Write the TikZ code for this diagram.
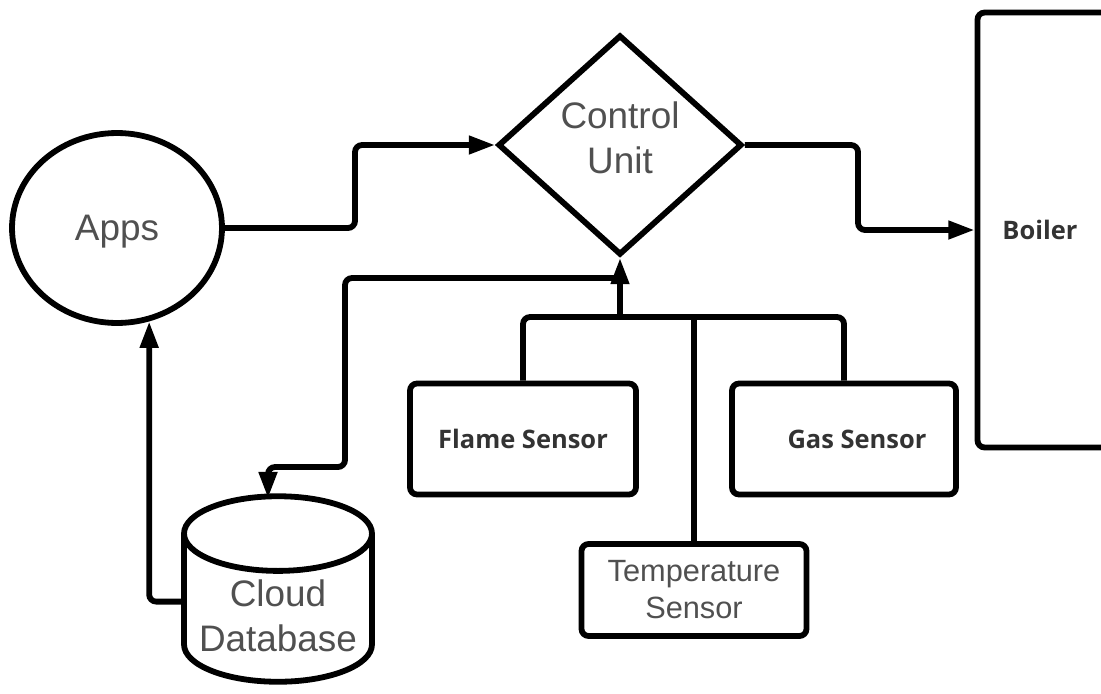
\documentclass[tikz,border=0pt]{standalone}
\usepackage{fontspec}
\setmainfont{Liberation Sans}
\newfontfamily\boldlabel{Open Sans}
\usetikzlibrary{shapes.geometric}
\usetikzlibrary{arrows.meta}
\definecolor{txtgray}{HTML}{505050}
\definecolor{txtdark}{HTML}{333333}

\begin{document}
\begin{tikzpicture}[x=0.02cm,y=-0.02cm,line width=3.3pt,
    box/.style={draw,rounded corners=4pt,inner sep=0pt,align=center},
    wire/.style={rounded corners=4pt},
    flow/.style={wire,arrows=-{Triangle[length=15pt,width=10pt]}},
    big/.style={font=\fontsize{21}{25.5}\selectfont,text=txtgray},
    tag/.style={font=\boldlabel\bfseries\fontsize{14.5}{17}\selectfont,text=txtdark}]

            %\draw [help lines] (0,0) grid (1101,693);
            \useasboundingbox (0,0) rectangle (1101,693);

            \path   (117,228) node (apps) [ellipse,draw,minimum width=4.2cm,minimum height=3.8cm,text depth=-0.1cm,big] {Apps}
                    (620,145) node (cu) [diamond,draw,inner sep=0pt,minimum width=4.88cm,minimum height=4.4cm,text depth=0.28cm,big,align=center] {Control\\Unit}
                    (1050,230) node (boiler) [box,minimum width=2.9cm,minimum height=8.7cm,tag] {Boiler\hspace*{0.4cm}}
                    (523,439) node (flame) [box,minimum width=4.52cm,minimum height=2.22cm,tag] {Flame Sensor}
                    (844,439) node (gas) [box,minimum width=4.48cm,minimum height=2.22cm,tag] {\hspace*{0.52cm}Gas Sensor}
                    (694,590) node (temp) [box,minimum width=4.5cm,minimum height=1.84cm,big,font=\fontsize{17.5}{21}\selectfont] {Temperature\\Sensor}
                    (278,589) node (cloud) [cylinder,shape border rotate=90,anchor=shape center,draw,aspect=0.44,minimum width=3.76cm,minimum height=3.52cm,big,align=center] {Cloud\\Database};

            \coordinate (bus) at (620,317);
            \coordinate (tap) at (620,278);

            \draw[flow] (apps.east) -- (355,228) |- (cu.west);
            \draw[flow] (cu.east) -- (858,145) |- (boiler.west);
            \draw[wire] (flame.north) |- (bus) -| (gas.north);
            \draw[wire] (temp.north) -- (temp.north |- bus);
            \draw[flow] (bus) -- (cu.south);
            \draw[flow] (tap) -| (345,467) -| ([xshift=-2mm,yshift=-1mm]cloud.north);
            \draw[flow] ([yshift=2.8mm]cloud.west) -| (apps.-71);
        \end{tikzpicture}
\end{document}
